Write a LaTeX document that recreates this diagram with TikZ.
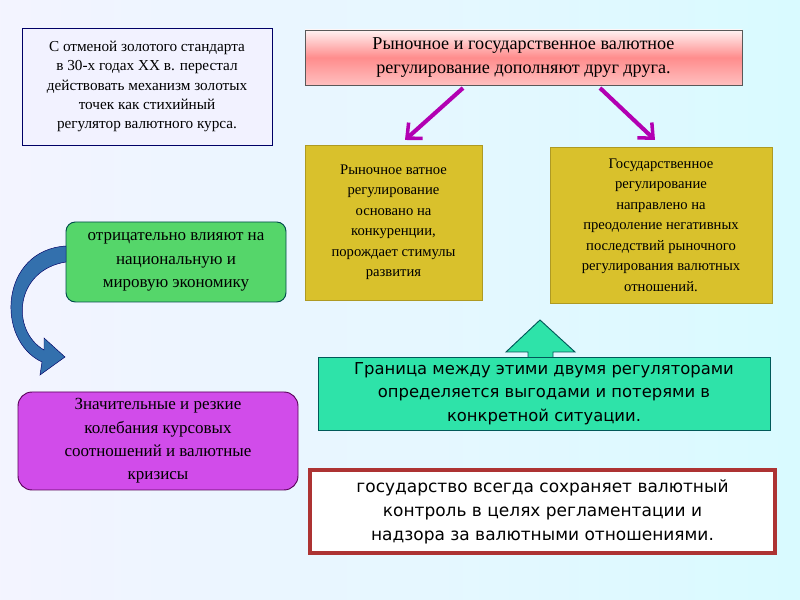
\documentclass[tikz,border=0pt]{standalone}
\usepackage{fontspec}
\setmainfont{Liberation Serif}
\newfontfamily\sansf{DejaVu Sans}
\usetikzlibrary{arrows.meta}
\definecolor{yel}{HTML}{D9C12C}
\definecolor{tealc}{HTML}{2EE3A9}
\definecolor{grn}{HTML}{55D66A}
\definecolor{mag}{HTML}{D14CEA}
\begin{document}
\begin{tikzpicture}[x=0.03cm,y=-0.03cm,
  bx/.style={draw,align=center,inner sep=2pt},
  marrow/.style={draw=violet!60!magenta,line width=3.5pt,-{Straight Barb[length=10pt,width=18pt,line width=3pt]}}]
\shade[left color=white!85!blue!30, right color=blue!12!cyan!15] (0,0) rectangle (800,600);
\useasboundingbox (0,0) rectangle (800,600);
% top left
\node[bx,draw=blue!40!black,fill=blue!5,minimum width=250*0.03cm,minimum height=117*0.03cm,font=\fontsize{13}{16.5}\selectfont] (t) at (147,86.5) {С отменой золотого стандарта\\ в 30-х годах XX в. перестал\\ действовать механизм золотых\\ точек как стихийный\\ регулятор валютного курса.};
% pink
\shade[top color=white!95!red, bottom color=red!25, middle color=red!45] (305,30) rectangle (742,85);
\node[bx,draw=gray!70!black,minimum width=437*0.03cm,minimum height=55*0.03cm,font=\fontsize{15.5}{20}\selectfont] (p) at (523.5,57.5) {Рыночное и государственное валютное\\ регулирование дополняют друг друга.};
% yellow
\node[bx,fill=yel,draw=yel!80!black,minimum width=177*0.03cm,minimum height=155*0.03cm,font=\fontsize{12.5}{17.5}\selectfont] (y1) at (393.5,222.5) {Рыночное ватное\\ регулирование\\ основано на\\ конкуренции,\\ порождает стимулы\\ развития};
\node[bx,fill=yel,draw=yel!80!black,minimum width=222*0.03cm,minimum height=156*0.03cm,font=\fontsize{12.5}{17.5}\selectfont] (y2) at (661,225) {Государственное\\ регулирование\\ направлено на\\ преодоление негативных\\ последствий рыночного\\ регулирования валютных\\ отношений.};
\draw[marrow] (463,88) -- (405,140);
\draw[marrow] (600,88) -- (655,140);
% green
\node[bx,fill=grn,draw=teal!60!black,thick,rounded corners=8pt,minimum width=220*0.03cm,minimum height=80*0.03cm,font=\fontsize{14.5}{20}\selectfont] (g) at (176,262) {отрицательно влияют на\\ национальную и\\ мировую экономику};
% magenta
\node[bx,fill=mag,draw=violet!70!black,thick,rounded corners=12pt,minimum width=280*0.03cm,minimum height=98*0.03cm,font=\fontsize{14.5}{20}\selectfont] (m) at (158,441) {Значительные и резкие\\ колебания курсовых\\ соотношений и валютные\\ кризисы};
% curved arrow
\fill[blue!50!cyan!60!black!80,draw=blue!40!black] (66,246) .. controls (0,250) and (-5,340) .. (42,362) -- (40,375) -- (65,357) -- (44,338) -- (44,350) .. controls (10,330) and (15,270) .. (66,262) -- cycle;
% up arrow
\draw[fill=tealc,draw=teal!70!black,thick] (528,358) -- (528,352) -- (506,352) -- (540,320) -- (575,352) -- (553,352) -- (553,358);
% teal
\node[bx,fill=tealc,draw=teal!70!black,thick,minimum width=452*0.03cm,minimum height=73*0.03cm,font=\sansf\fontsize{14}{20}\selectfont] (c) at (544,393.5) {Граница между этими двумя регуляторами\\определяется выгодами и потерями в\\ конкретной ситуации.};
% red
\node[bx,fill=white,draw=red!60!black!80,line width=3pt,minimum width=465*0.03cm,minimum height=83*0.03cm,font=\sansf\fontsize{14.5}{20.5}\selectfont] (r) at (542.5,511.5) {государство всегда сохраняет валютный\\ контроль в целях регламентации и\\ надзора за валютными отношениями.};
\end{tikzpicture}
\end{document}
